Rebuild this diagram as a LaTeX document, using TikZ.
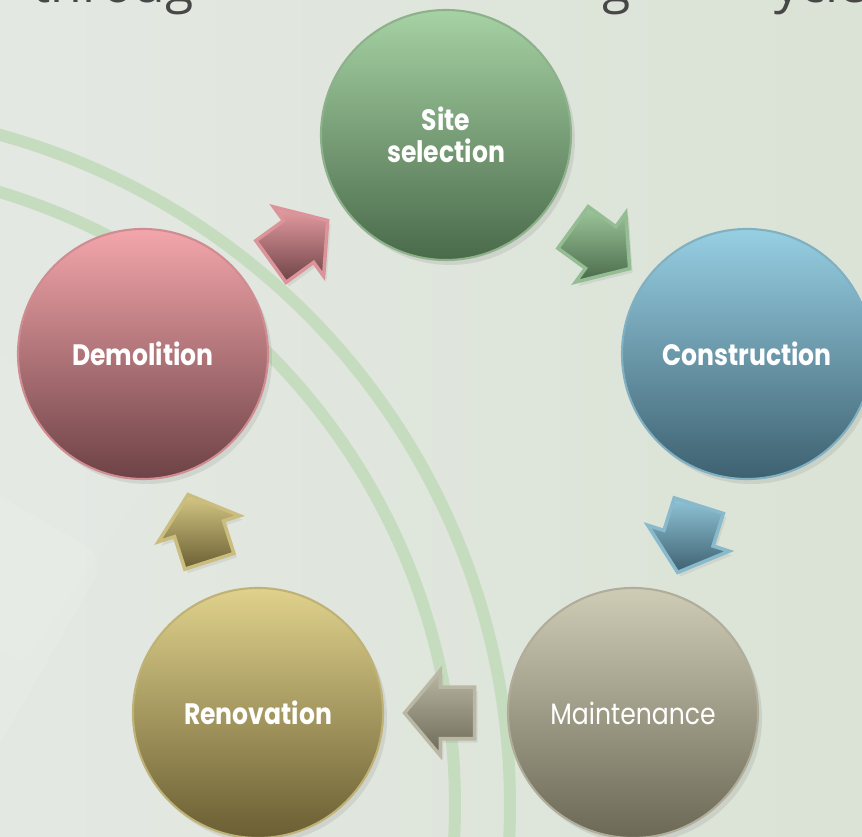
\documentclass[tikz,border=0pt]{standalone}
\usepackage{fontspec}
\setmainfont{Open Sans}
\newfontfamily\stagefont[FakeStretch=0.85]{Poppins}
\usetikzlibrary{shapes.arrows,shadows}
\definecolor{bgleft}{HTML}{E4E8E3}
\definecolor{bgright}{HTML}{DAE3D5}
\definecolor{arcgreen}{HTML}{C5DCBF}
\definecolor{titlegray}{HTML}{474747}
\definecolor{sitetop}{HTML}{A6D2A4}
\definecolor{sitebot}{HTML}{4A6A4A}
\definecolor{consttop}{HTML}{97CFE3}
\definecolor{constbot}{HTML}{3E6170}
\definecolor{mainttop}{HTML}{CFCCB6}
\definecolor{maintbot}{HTML}{6B6856}
\definecolor{renotop}{HTML}{E0D28C}
\definecolor{renobot}{HTML}{6A5E33}
\definecolor{demotop}{HTML}{F3A6AB}
\definecolor{demobot}{HTML}{6D4246}
\begin{document}
\begin{tikzpicture}[
  stage/.style={circle, minimum size=2.5cm, inner sep=0pt, align=center,
    text=white, font=\stagefont\fontsize{8.4}{9.2}\selectfont\bfseries, line width=0.6pt,
    drop shadow={opacity=0.18, shadow xshift=0.04cm, shadow yshift=-0.05cm}},
  turn/.style={single arrow, single arrow head extend=0.17cm, single arrow tip angle=100,
    minimum height=0.7cm, minimum width=0.84cm, inner xsep=0pt, inner ysep=0.24cm, line width=1pt,
    sloped, allow upside down, pos=0.46,
    drop shadow={opacity=0.15, shadow xshift=0.03cm, shadow yshift=-0.04cm}},
  band/.style={arcgreen, line width=0.12cm},
  title/.style={anchor=base west, text=titlegray, font=\fontsize{14.7}{16}\selectfont}
]
  \useasboundingbox (0,0) rectangle (8.62,8.37);
  \clip (0,0) rectangle (8.62,8.37);
  \shade[left color=bgleft, right color=bgright] (0,0) rectangle (8.62,8.37);
  \fill[white, opacity=0.1, rounded corners=0.25cm, rotate around={-30:(1.07,2.79)}]
      (1.07,2.79) rectangle ++(-2.4,-2.4);
  \fill[white, opacity=0.07, rotate around={-35:(1.6,3.7)}]
      (1.6,3.7) rectangle ++(-2.4,-2.4);
  \draw[band] (-1.85,0.32) circle (6.95);
  \draw[band] (-1.85,0.32) circle (6.40);

  \node[title] (throug) at (0.20,8.34) {throug};
  \node[title] (gpart) at (5.90,8.34) {g};
  \node[title] (ycle) at (7.62,8.34) {ycle};

  \node[stage, top color=sitetop, bottom color=sitebot, draw=sitetop!85!black] (site) at (4.46,7.02) {Site\\selection};
  \node[stage, top color=consttop, bottom color=constbot, draw=consttop!85!black] (const) at (7.47,4.83) {Construction};
  \node[stage, top color=mainttop, bottom color=maintbot, draw=mainttop!85!black,
        font=\stagefont\fontsize{8.4}{9.2}\selectfont] (maint) at (6.33,1.24) {Maintenance};
  \node[stage, top color=renotop, bottom color=renobot, draw=renotop!85!black] (reno) at (2.58,1.24) {Renovation};
  \node[stage, top color=demotop, bottom color=demobot, draw=demotop!85!black] (demo) at (1.43,4.83) {Demolition};

  \path (demo) -- (site) node[turn, top color=demotop!95!black, bottom color=demobot, draw=demotop!90!black] (demosite) {};
  \path (site) -- (const) node[turn, top color=sitetop!95!black, bottom color=sitebot, draw=sitetop!90!black] (siteconst) {};
  \path (const) -- (maint) node[turn, top color=consttop!95!black, bottom color=constbot, draw=consttop!90!black] (constmaint) {};
  \path (maint) -- (reno) node[turn, top color=mainttop!90!black, bottom color=maintbot, draw=mainttop!90!black] (maintreno) {};
  \path (reno) -- (demo) node[turn, top color=renotop!95!black, bottom color=renobot, draw=renotop!90!black] (renodemo) {};
\end{tikzpicture}
\end{document}
